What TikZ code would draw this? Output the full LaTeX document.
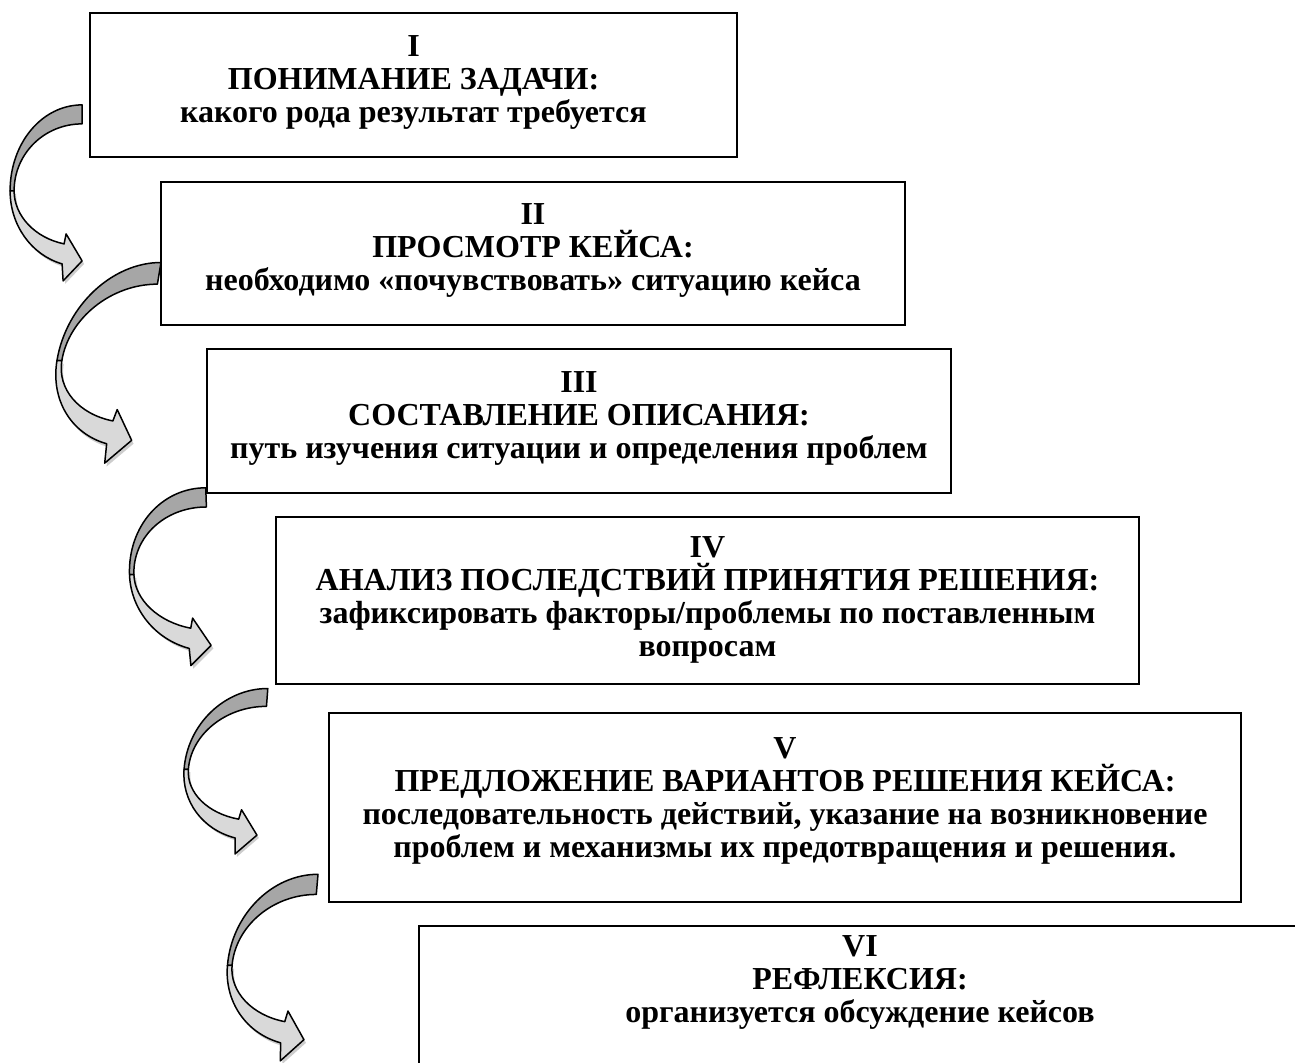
\documentclass[tikz,border=0pt]{standalone}
\usepackage{fontspec}
\setmainfont{Liberation Serif}
\usetikzlibrary{calc}
\definecolor{turndark}{RGB}{166,166,166}
\definecolor{turnlight}{RGB}{217,217,217}
\definecolor{turnshade}{RGB}{205,205,205}
\tikzset{
  stagebox/.style={draw, line width=0.9pt, align=center, inner sep=0pt, text depth=6pt,
    font=\fontsize{16}{16.5}\selectfont\bfseries},
  turnline/.style={draw=black, line width=0.75pt, line join=round},
  % curved block arrow, origin at the right end of its tail
  caseturn/.pic={
    \fill[turnshade, shift={(2,3)}] (-72,76) .. controls (-72,110) and (-51,140) .. (-20,149)
      -- (-19,166) -- (0,146) -- (-16,119) -- (-18,129)
      .. controls (-47,123) and (-68,101) .. (-68,76) -- cycle;
    \draw[turnline, fill=turndark] (0,-10) .. controls (-40,-10) and (-72,28) .. (-72,76)
      -- (-68,76) .. controls (-68,39) and (-38,9) .. (0,9) -- cycle;
    \draw[turnline, fill=turnlight] (-72,76) .. controls (-72,110) and (-51,140) .. (-20,149)
      -- (-19,166) -- (0,146) -- (-16,119) -- (-18,129)
      .. controls (-47,123) and (-68,101) .. (-68,76) -- cycle;
  }
}

\begin{document}
\begin{tikzpicture}[x=0.5pt, y=-0.5pt]
  \useasboundingbox (0,0) rectangle (1295,1063);

  % stages
  \node[stagebox, minimum width=323.5pt, minimum height=72pt] (s1) at (413.5,85)
    {I\\ ПОНИМАНИЕ ЗАДАЧИ:\\ какого рода результат требуется};
  \node[stagebox, minimum width=372pt, minimum height=71.5pt] (s2) at (533,253.5)
    {II\\ ПРОСМОТР КЕЙСА:\\ необходимо «почувствовать» ситуацию кейса};
  \node[stagebox, minimum width=372pt, minimum height=72pt] (s3) at (579,421)
    {III\\ СОСТАВЛЕНИЕ ОПИСАНИЯ:\\ путь изучения ситуации и определения проблем};
  \node[stagebox, minimum width=431.5pt, minimum height=83.5pt, text depth=4pt] (s4) at (707.5,600.5)
    {IV\\ АНАЛИЗ ПОСЛЕДСТВИЙ ПРИНЯТИЯ РЕШЕНИЯ:\\ зафиксировать факторы/проблемы по поставленным\\ вопросам};
  \node[stagebox, minimum width=456pt, minimum height=94.5pt, text depth=10pt] (s5) at (785,807.5)
    {V\\ ПРЕДЛОЖЕНИЕ ВАРИАНТОВ РЕШЕНИЯ КЕЙСА:\\ последовательность действий, указание на возникновение\\ проблем и механизмы их предотвращения и решения.};
  \node[stagebox, anchor=north, minimum width=441pt, inner ysep=5pt, text depth=70pt] (s6) at (860,925)
    {VI\\ РЕФЛЕКСИЯ:\\ организуется обсуждение кейсов};

  % turns between stages
  \pic at ([shift={(-7,-43)}]s1.south west) {caseturn};
  \pic[xslant=0.165, xscale=1.22, yscale=1.14] at ([shift={(-1,-52)}]s2.south west) {caseturn};
  \pic[xslant=-0.034, xscale=1.1, yscale=1.01] at ([shift={(0,4)}]s3.south west) {caseturn};
  \pic[xslant=0.074, xscale=1.08, yscale=0.94] at ([shift={(-8,13)}]s4.south west) {caseturn};
  \pic[xslant=0.085, xscale=1.15, yscale=1.06] at ([shift={(-11,-18)}]s5.south west) {caseturn};
\end{tikzpicture}
\end{document}
